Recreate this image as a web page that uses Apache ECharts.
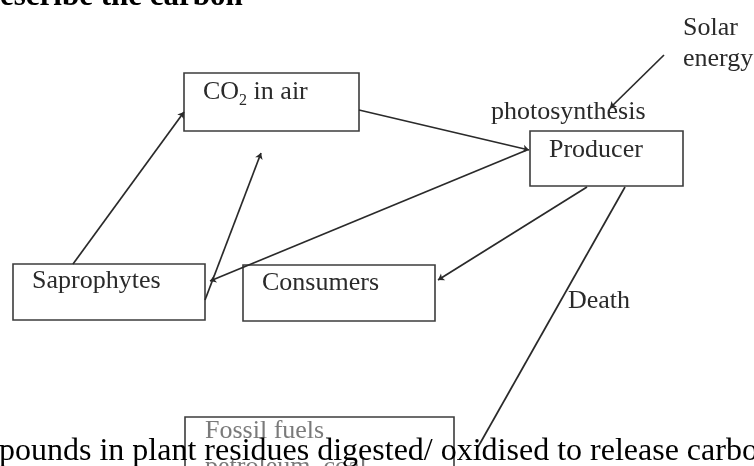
<!DOCTYPE html>
<html lang="en">
<head>
  <meta charset="UTF-8">
  <title>Carbon cycle</title>
  <script src="https://cdn.jsdelivr.net/npm/echarts@6/dist/echarts.min.js"></script>
  <style>
    html, body { margin: 0; padding: 0; background: #fff; }
  </style>
</head>
<body>
<div id="chart" style="width: 754px; height: 466px"></div>
<script>
  // diagram units = page pixels, y grows downwards
  const boxes = [
    [184, 73, 359, 131],   // CO2 in air
    [530, 131, 683, 186],  // Producer
    [13, 264, 205, 320],   // Saprophytes
    [243, 265, 435, 321],  // Consumers
    [185, 417, 454, 500]   // Fossil fuels
  ];

  // [from, to], arrow head on the "to" end when head is true
  const links = [
    [[359, 110], [529, 150]],  // CO2 -> producer
    [[527, 150], [210, 281]],  // producer -> saprophytes
    [[73, 264], [184, 112]],   // saprophytes -> CO2
    [[205, 300], [261, 153]],  // saprophytes -> air
    [[587, 187], [438, 280]],  // producer -> consumers
    [[664, 55], [610, 108]],   // solar energy
    [[625, 187], [478, 447]]   // death
  ];
  const linkHeads = [true, true, true, true, true, true, false];

  const labelTexts = [
    '{a|CO}{s|2}{a| in air}', 'Producer', 'Saprophytes', 'Consumers',
    'photosynthesis', 'Solar', 'energy', 'Death',
    'Fossil fuels', 'petroleum, coal',
    'escribe the carbon',
    'pounds in plant residues digested/ oxidised to release carbon'
  ];
  const labelPoints = [
    [203, 92], [549, 150], [32, 281], [262, 283],
    [491, 112], [683, 28], [683, 59], [568, 301],
    [205, 431], [205, 467],
    [0, -3],
    [-1, 452]
  ];
  const labelKinds = [
    'node', 'node', 'node', 'node',
    'node', 'node', 'node', 'node',
    'faint', 'faint',
    'title',
    'body'
  ];

  const kindStyle = {
    node: { fill: '#2a2a2a', fontSize: 26, fontWeight: 'normal' },
    faint: { fill: '#7a7a7a', fontSize: 26, fontWeight: 'normal' },
    title: { fill: '#000', fontSize: 31, fontWeight: 'bold' },
    body: { fill: '#000', fontSize: 32, fontWeight: 'normal' }
  };

  const chart = echarts.init(document.getElementById('chart'));

  const option = {
    animation: false,
    backgroundColor: '#fff',
    grid: { left: 0, right: 0, top: 0, bottom: 0 },
    xAxis: { type: 'value', min: 0, max: 754, show: false },
    yAxis: { type: 'value', min: 0, max: 466, inverse: true, show: false },
    series: [
      {
        type: 'custom',
        clip: false,
        data: boxes,
        renderItem: (params, api) => {
          const p0 = api.coord([api.value(0), api.value(1)]);
          const p1 = api.coord([api.value(2), api.value(3)]);
          return {
            type: 'rect',
            shape: { x: p0[0], y: p0[1], width: p1[0] - p0[0], height: p1[1] - p0[1] },
            style: { fill: '#fff', stroke: '#3c3c3c', lineWidth: 1.6 }
          };
        }
      },
      {
        type: 'lines',
        coordinateSystem: 'cartesian2d',
        clip: false,
        z: 3,
        data: links.map((c, i) => ({
          coords: c,
          symbol: ['none', linkHeads[i] ? 'arrow' : 'none']
        })),
        symbolSize: 6,
        lineStyle: { color: '#2a2a2a', width: 1.7, opacity: 1 }
      },
      {
        type: 'custom',
        clip: false,
        z: 5,
        data: labelTexts.map((t, i) => [labelPoints[i][0], labelPoints[i][1], i]),
        renderItem: (params, api) => {
          const i = api.value(2);
          const pt = api.coord([api.value(0), api.value(1)]);
          const st = kindStyle[labelKinds[i]];
          return {
            type: 'text',
            x: pt[0],
            y: pt[1],
            style: {
              text: labelTexts[i],
              fill: st.fill,
              fontFamily: 'Liberation Serif',
              fontSize: st.fontSize,
              fontWeight: st.fontWeight,
              align: 'left',
              verticalAlign: 'middle',
              rich: {
                a: { fontFamily: 'Liberation Serif', fontSize: 26, fill: st.fill, lineHeight: 34 },
                s: { fontFamily: 'Liberation Serif', fontSize: 16, fill: st.fill, lineHeight: 16, verticalAlign: 'bottom' }
              }
            }
          };
        }
      }
    ]
  };
  chart.setOption(option);
</script>
</body>
</html>
